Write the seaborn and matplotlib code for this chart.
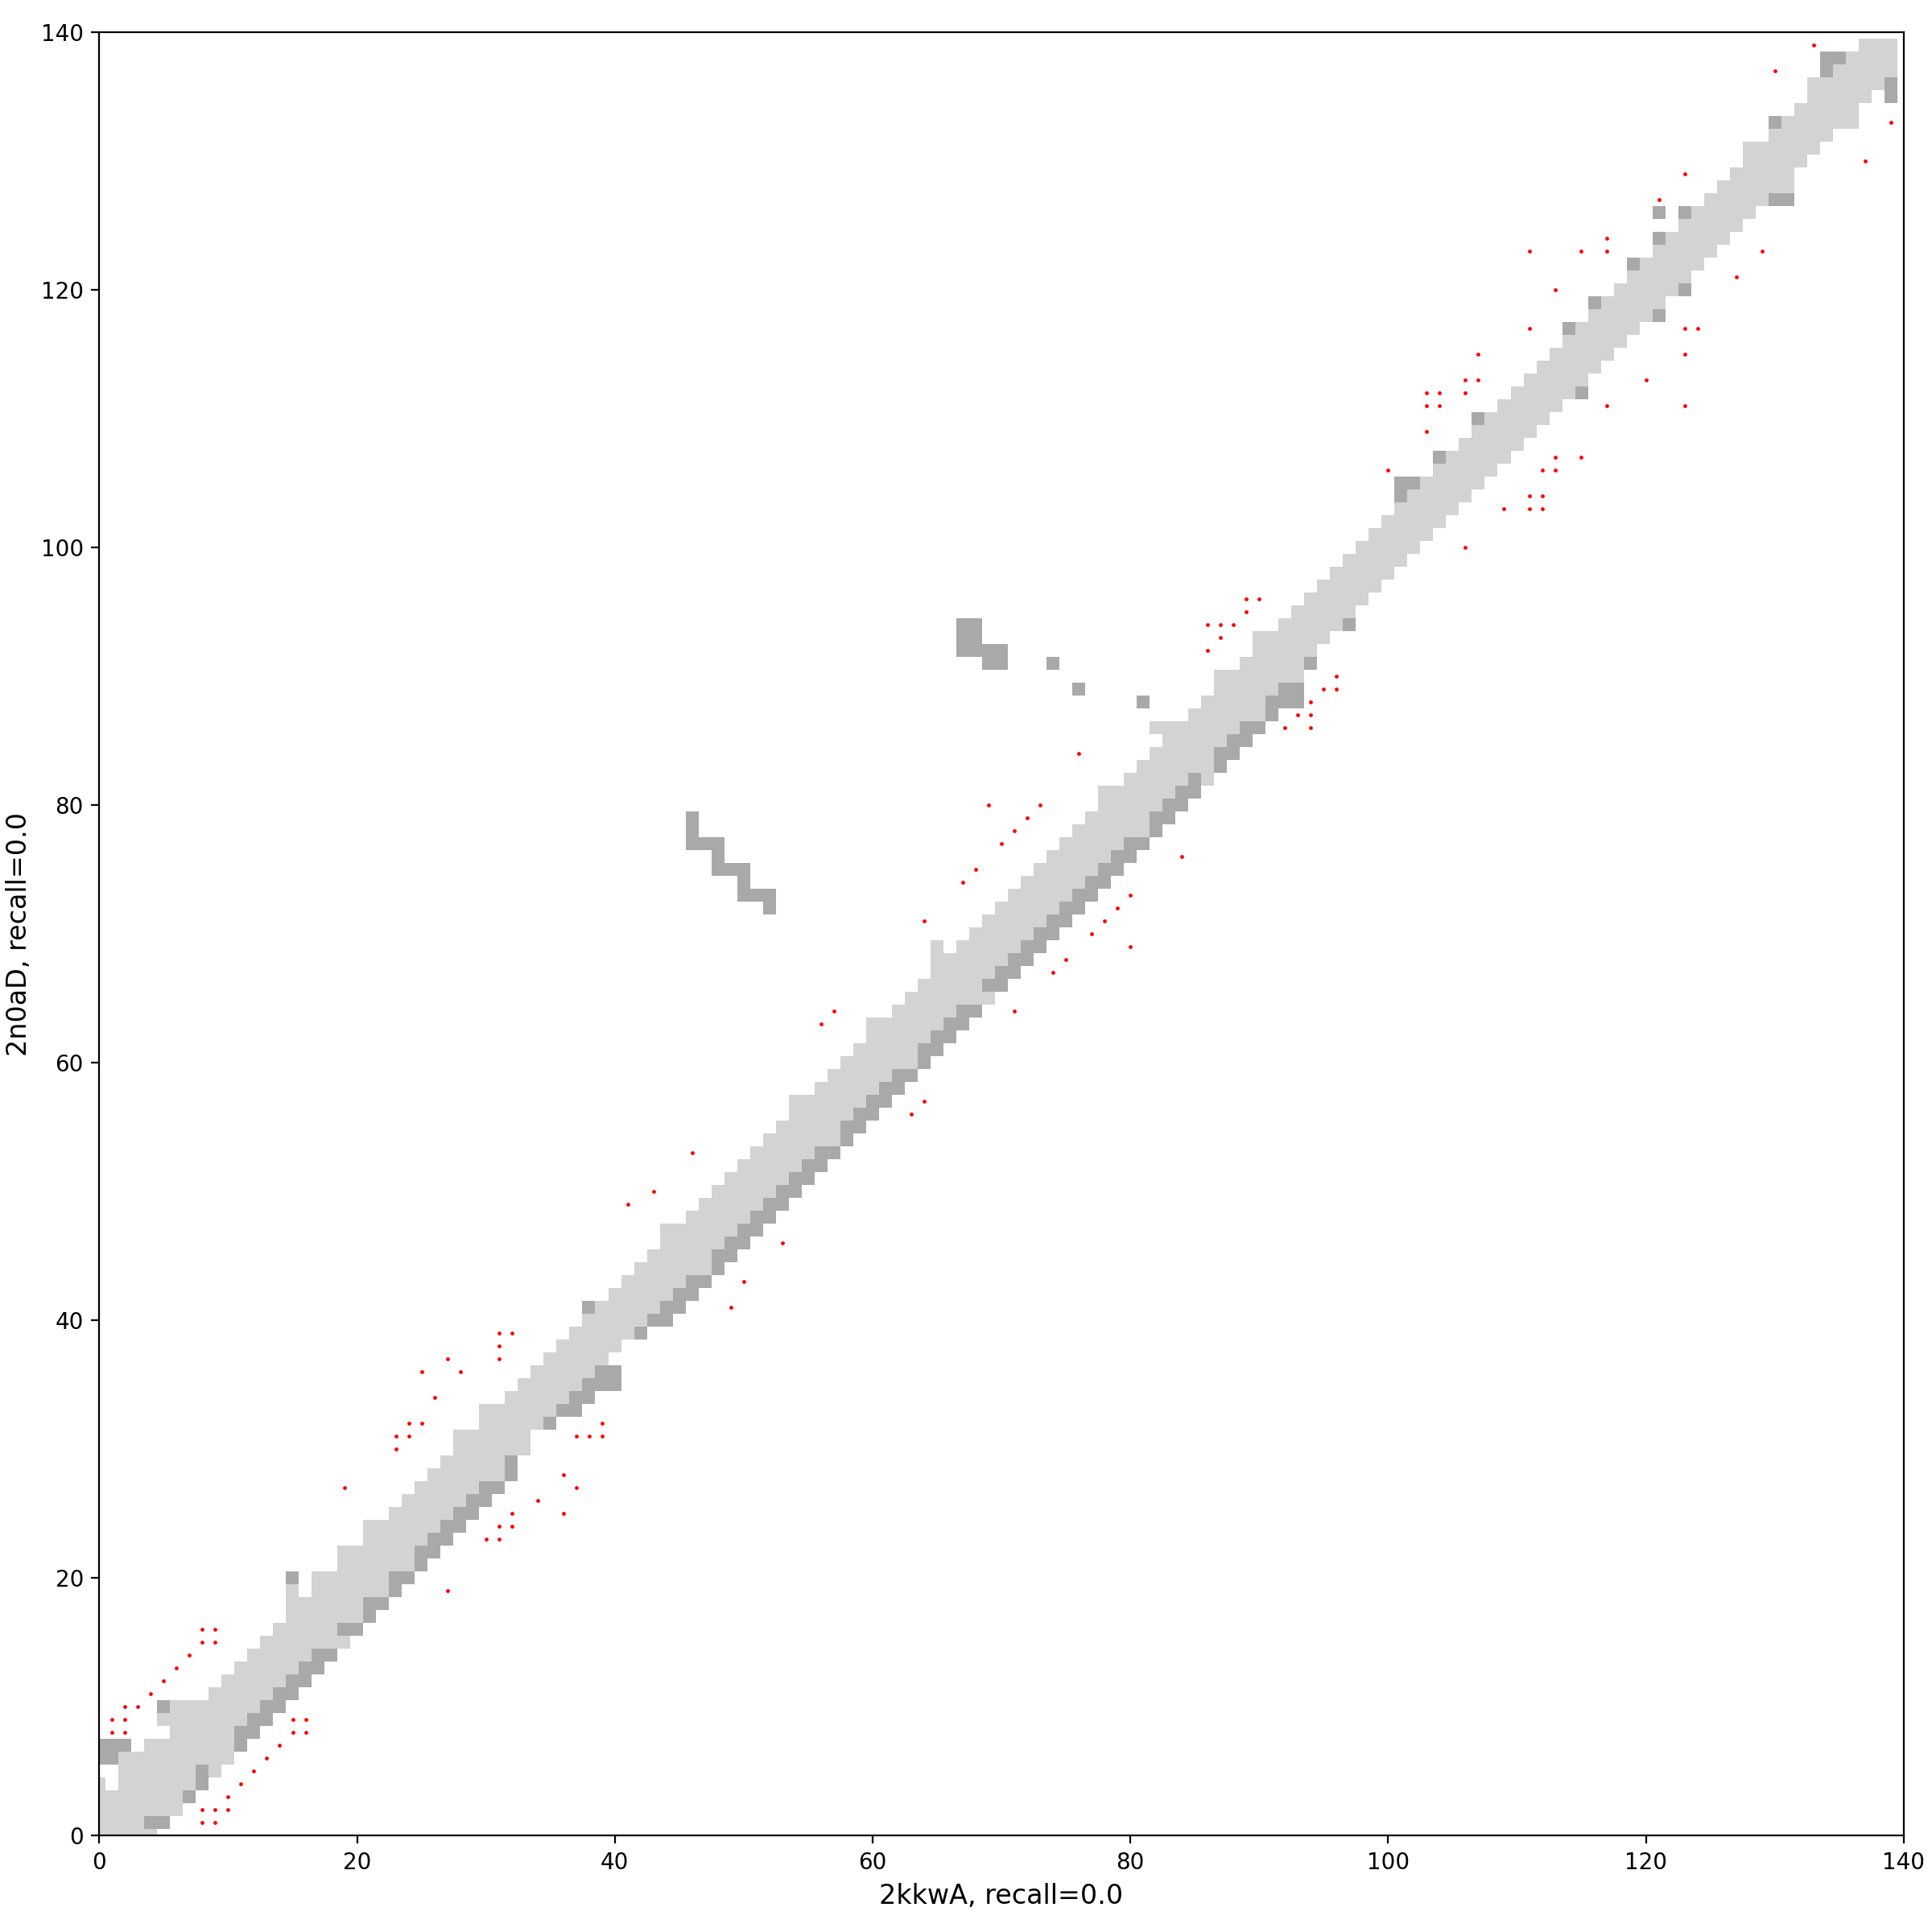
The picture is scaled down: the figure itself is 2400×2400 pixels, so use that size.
import numpy as np
import matplotlib
matplotlib.use('Agg')
import matplotlib.pyplot as plt
from matplotlib.colors import ListedColormap
import seaborn as sns

n = 140
x_name = "2kkwA"
y_name = "2n0aD"
recall = 0.0

# light gray band, one range per row (row = residue of 2n0aD)
light_lo = [0, 0, 0, 0, 2, 2, 2, 4, 6, 5,
            6, 9, 10, 11, 12, 13, 14, 15, 15, 17,
            17, 19, 19, 21, 21, 23, 24, 25, 26, 27,
            28, 28, 30, 30, 32, 33, 34, 35, 36, 37,
            38, 39, 40, 41, 42, 43, 44, 44, 46, 47,
            48, 49, 50, 51, 52, 53, 54, 54, 56, 57,
            58, 59, 60, 60, 62, 63, 64, 65, 65, 67,
            68, 69, 70, 71, 72, 73, 74, 75, 76, 77,
            78, 78, 80, 81, 82, 83, 82, 85, 86, 87,
            87, 89, 90, 90, 92, 93, 94, 95, 96, 97,
            98, 99, 100, 101, 102, 103, 104, 105, 106, 107,
            108, 109, 110, 111, 112, 113, 114, 115, 116, 117,
            118, 119, 120, 121, 122, 123, 124, 125, 126, 127,
            128, 128, 130, 131, 132, 133, 133, 135, 136, 137]
light_hi = [4, 3, 6, 6, 7, 7, 10, 10, 10, 11,
            12, 13, 14, 15, 16, 19, 18, 20, 20, 22,
            22, 24, 24, 25, 26, 27, 28, 29, 31, 31,
            33, 33, 34, 35, 36, 37, 38, 39, 40, 41,
            42, 43, 44, 45, 47, 47, 48, 49, 50, 51,
            52, 53, 54, 55, 57, 57, 58, 59, 60, 61,
            63, 63, 64, 65, 66, 69, 68, 69, 70, 71,
            72, 73, 74, 75, 76, 77, 78, 79, 81, 81,
            82, 83, 84, 86, 86, 87, 88, 90, 90, 91,
            93, 93, 94, 95, 96, 97, 98, 99, 100, 101,
            102, 103, 104, 105, 106, 107, 108, 109, 110, 111,
            112, 113, 114, 115, 116, 117, 118, 119, 120, 121,
            122, 123, 124, 125, 126, 127, 128, 129, 131, 131,
            132, 133, 134, 136, 136, 137, 138, 139, 139, 139]

# dark gray run per row (-1 = none)
dark_lo = [-1, 4, -1, 7, 8, 8, 0, 11, 11, 12,
           13, 14, 15, 16, 17, -1, 19, 21, 21, 23,
           23, 25, 25, 26, 27, 28, 29, 30, 32, 32,
           -1, -1, 35, 36, 37, 38, 39, -1, -1, 42,
           43, 44, 45, 46, 48, 48, 49, 50, 51, 52,
           53, 54, 55, 56, 58, 58, 59, 60, 61, 62,
           64, 64, 65, 66, 67, -1, 69, 70, 71, 72,
           73, 74, 75, 76, 77, 78, 79, 80, 82, 82,
           83, 84, 85, 87, 87, 88, 89, 91, 91, 92,
           -1, 94, -1, -1, 97, -1, -1, -1, -1, -1,
           -1, -1, -1, -1, 101, 101, -1, 104, -1, -1,
           107, -1, 115, -1, -1, -1, -1, 114, 121, 116,
           123, -1, 119, -1, 121, -1, 123, 130, -1, -1,
           -1, -1, -1, 130, -1, 139, 139, 134, 134, -1]
dark_hi = [-1, 5, -1, 7, 8, 8, 1, 11, 12, 13,
           14, 15, 16, 17, 18, -1, 20, 21, 22, 23,
           24, 25, 26, 27, 28, 29, 30, 31, 32, 32,
           -1, -1, 35, 37, 38, 40, 40, -1, -1, 42,
           44, 45, 46, 47, 48, 49, 50, 51, 52, 53,
           54, 55, 56, 57, 58, 59, 60, 61, 62, 63,
           64, 65, 66, 67, 68, -1, 70, 71, 72, 73,
           74, 75, 76, 77, 78, 79, 80, 81, 82, 83,
           84, 85, 85, 87, 88, 89, 90, 91, 93, 93,
           -1, 94, -1, -1, 97, -1, -1, -1, -1, -1,
           -1, -1, -1, -1, 101, 102, -1, 104, -1, -1,
           107, -1, 115, -1, -1, -1, -1, 114, 121, 116,
           123, -1, 119, -1, 121, -1, 123, 131, -1, -1,
           -1, -1, -1, 130, -1, 139, 139, 134, 135, -1]

# single cells outside the runs above: (x, y)
extra_light = [(0, 4), (9, 5), (15, 19), (65, 69), (86, 82)]
extra_dark = [(0, 7), (1, 7), (2, 7), (5, 10), (15, 20), (38, 41), (121, 126),
              (52, 72), (50, 73), (51, 73), (52, 73), (50, 74), (48, 75), (49, 75),
              (50, 75), (48, 76), (46, 77), (47, 77), (48, 77), (46, 78), (46, 79),
              (81, 88), (76, 89), (69, 91), (70, 91), (74, 91), (67, 92), (68, 92),
              (69, 92), (70, 92), (67, 93), (68, 93), (67, 94), (68, 94)]
white_cells = [(1, 4), (0, 5), (1, 5), (16, 19), (66, 69)]

# red predicted contacts
dot_x = [1, 1, 2, 2, 2, 3, 4, 5, 6, 7, 8, 9, 8, 9,
         8, 9, 8, 9, 10, 10, 11, 12, 13, 14, 15, 16, 15, 16,
         19, 27,
         23, 23, 24, 24, 25, 25, 26, 27, 28, 31, 31, 31, 32,
         30, 31, 31, 32, 32, 34, 36, 36, 37, 37, 38, 39, 39,
         41, 43, 46, 49, 50, 53,
         56, 57, 63, 64, 64, 71,
         67, 68, 70, 71, 72, 69, 73, 76,
         74, 75, 77, 78, 79, 80, 80, 84,
         86, 87, 86, 87, 88, 89, 89, 90,
         92, 93, 94, 94, 94, 95, 96, 96,
         100, 106,
         103, 103, 104, 103, 104, 106, 106, 107, 107, 111, 113, 111, 115, 117, 117,
         109, 111, 112, 111, 112, 112, 113, 113, 115, 117, 123, 120, 123, 123, 124,
         121, 123, 127, 129, 130, 133, 137, 139]
dot_y = [8, 9, 8, 9, 10, 10, 11, 12, 13, 14, 15, 15, 16, 16,
         1, 1, 2, 2, 2, 3, 4, 5, 6, 7, 8, 8, 9, 9,
         27, 19,
         30, 31, 31, 32, 32, 36, 34, 37, 36, 37, 38, 39, 39,
         23, 23, 24, 24, 25, 26, 25, 28, 27, 31, 31, 31, 32,
         49, 50, 53, 41, 43, 46,
         63, 64, 56, 57, 71, 64,
         74, 75, 77, 78, 79, 80, 80, 84,
         67, 68, 70, 71, 72, 73, 69, 76,
         92, 93, 94, 94, 94, 95, 96, 96,
         86, 87, 86, 87, 88, 89, 89, 90,
         106, 100,
         109, 111, 111, 112, 112, 112, 113, 113, 115, 117, 120, 123, 123, 123, 124,
         103, 103, 103, 104, 104, 106, 106, 107, 107, 111, 111, 113, 115, 117, 117,
         127, 129, 121, 123, 137, 139, 130, 133]

grid = np.zeros((n, n))
for row in range(n):
    grid[row, light_lo[row]:light_hi[row] + 1] = 1
    if dark_lo[row] >= 0:
        grid[row, dark_lo[row]:dark_hi[row] + 1] = 2
for cx, cy in extra_light:
    grid[cy, cx] = 1
for cx, cy in white_cells:
    grid[cy, cx] = 0
for cx, cy in extra_dark:
    grid[cy, cx] = 2

fig, ax = plt.subplots(figsize=(12, 12), dpi=200)
cmap = ListedColormap(['white', 'lightgray', 'darkgray'])
ax.imshow(grid, origin='lower', cmap=cmap, vmin=0, vmax=2,
          interpolation='nearest', aspect='auto',
          extent=(-0.5, n - 0.5, -0.5, n - 0.5))
sns.scatterplot(x=dot_x, y=dot_y, color='red', s=3, linewidth=0,
                ax=ax, zorder=3, legend=False)

ax.set_xlim(0, n)
ax.set_ylim(0, n)
ax.set_xticks(range(0, n + 1, 20))
ax.set_yticks(range(0, n + 1, 20))
ax.set_xlabel(f"{x_name}, recall={recall}", fontsize=12)
ax.set_ylabel(f"{y_name}, recall={recall}", fontsize=12)

fig.subplots_adjust(left=0.0514, right=0.9853, bottom=0.0499, top=0.9832)
fig.savefig('out.png', dpi=200)
